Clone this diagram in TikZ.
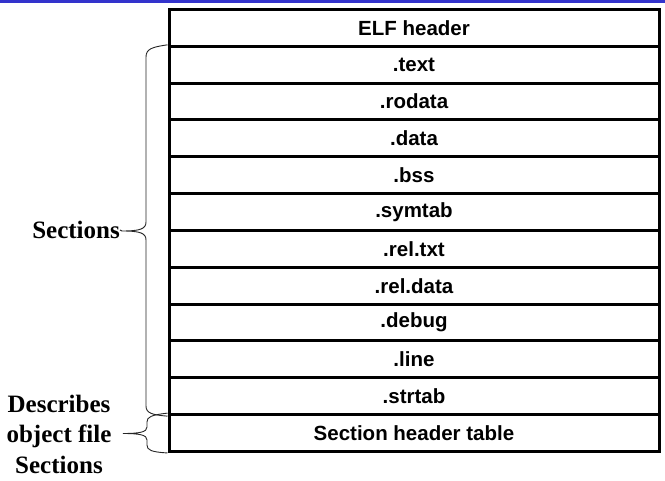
\documentclass[tikz,border=0pt]{standalone}
\usepackage{fontspec}
\setmainfont{Liberation Serif}
\newfontfamily\rowfont{Liberation Sans}
\begin{document}
\begin{tikzpicture}[x=1pt,y=-1pt,
  rowbox/.style={draw=black, line width=3pt, minimum width=490pt, minimum height=36.83pt,
    inner sep=0pt, font=\rowfont\bfseries\fontsize{20.5}{23}\selectfont},
  sidelabel/.style={font=\bfseries\fontsize{25}{30.5}\selectfont, align=center, inner sep=0pt},
  bracepath/.style={draw=black!85, line width=0.9pt}]
\useasboundingbox (0,0) rectangle (665,481);
% title rule
\fill[fill={rgb,255:red,51;green,51;blue,204}] (0,0) rectangle (665,3.5);
% section layout of the object file
\foreach \name/\txt [count=\i from 0] in {elf/ELF header, text/.text, rodata/.rodata, data/.data,
    bss/.bss, symtab/.symtab, reltxt/.rel.txt, reldata/.rel.data, debug/.debug, line/.line,
    strtab/.strtab, sht/Section header table}
  \node[rowbox] (\name) at (414, {9.5 + 36.83*(\i + 0.5)}) {\txt};
% labels
\node[sidelabel, anchor=east] (seclbl) at (120,230) {Sections};
\node[sidelabel] (desclbl) at (59,434) {Describes\\object file\\Sections};
% brace over the sections
\coordinate (tipA) at (122,231);
\draw[bracepath] (text.north west) .. controls (152,47) and (146,49) .. (146,57) -- (146,222)
  .. controls (146,229) and (140,231) .. (tipA)
  .. controls (140,231) and (146,233) .. (146,240) -- (146,406)
  .. controls (146,413) and (152,415) .. (strtab.south west);
\draw[bracepath] (tipA) -- (seclbl.east);
% brace over the section header table
\coordinate (tipB) at (123,433.5);
\draw[bracepath] (sht.north west) .. controls (151,415) and (147,417) .. (147,422) -- (147,427)
  .. controls (147,432) and (140,433.5) .. (tipB)
  .. controls (140,433.5) and (147,435) .. (147,440) -- (147,445)
  .. controls (147,450) and (151,452) .. (sht.south west);
\end{tikzpicture}
\end{document}
